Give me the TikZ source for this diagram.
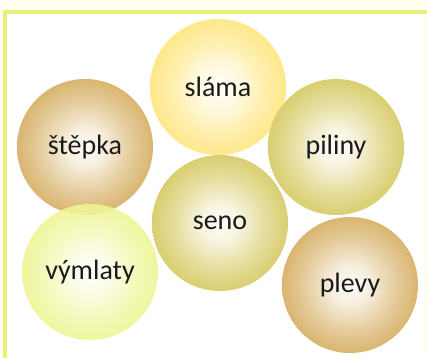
\documentclass[tikz,border=0pt]{standalone}
\usepackage{fontspec}
\setmainfont{Carlito}
\usetikzlibrary{positioning}
\definecolor{ColorFrame}{HTML}{E6F07A}
\definecolor{ColorBack}{HTML}{FFFFF0}
\definecolor{ColorStraw}{HTML}{FFE88A}
\definecolor{ColorChip}{HTML}{D9B570}
\definecolor{ColorHay}{HTML}{D9CE70}
\definecolor{ColorChaff}{HTML}{EEF590}
\definecolor{ColorText}{HTML}{1A1A1A}
\colorlet{bubbleedge}{white}
\pgfdeclareradialshading[bubbleedge]{bubbleglow}{\pgfpoint{0bp}{0bp}}{color(0bp)=(bubbleedge!5); color(7bp)=(bubbleedge!22); color(16bp)=(bubbleedge!65); color(25bp)=(bubbleedge); color(50bp)=(bubbleedge)}

\begin{document}
\begin{tikzpicture}[x=1pt, y=-1pt,
	bubble/.style={circle, minimum size=136pt, inner sep=0pt, font=\fontsize{28}{32}\selectfont, text=ColorText},
	straw/.style={/utils/exec={\colorlet{bubbleedge}{ColorStraw}}, shading=bubbleglow},
	chip/.style={/utils/exec={\colorlet{bubbleedge}{ColorChip}}, shading=bubbleglow},
	hay/.style={/utils/exec={\colorlet{bubbleedge}{ColorHay}}, shading=bubbleglow},
	chaff/.style={/utils/exec={\colorlet{bubbleedge}{ColorChaff}}, shading=bubbleglow, fill opacity=0.88, text opacity=1}]

	% Frame
	\useasboundingbox (0,0) rectangle (427,358);
	\fill[ColorBack] (0,0) rectangle (427,358);
	\fill[white] (5,12) rectangle (424,358);
	\draw[ColorFrame, line width=4pt] (5,358) -- (5,12) -- (427,12);

	% Bubbles
	\node[bubble, straw] (straw) at (218,87) {sláma};
	\node[bubble, chip] (chip) at (85,147) {štěpka};
	\node[bubble, hay] (dust) at (336,147) {piliny};
	\node[bubble, hay] (hay) at (220,223) {seno};
	\node[bubble, chaff] (thresh) at (90,272) {výmlaty};
	\node[bubble, chip] (chaff) at (350,285) {plevy};
\end{tikzpicture}
\end{document}
